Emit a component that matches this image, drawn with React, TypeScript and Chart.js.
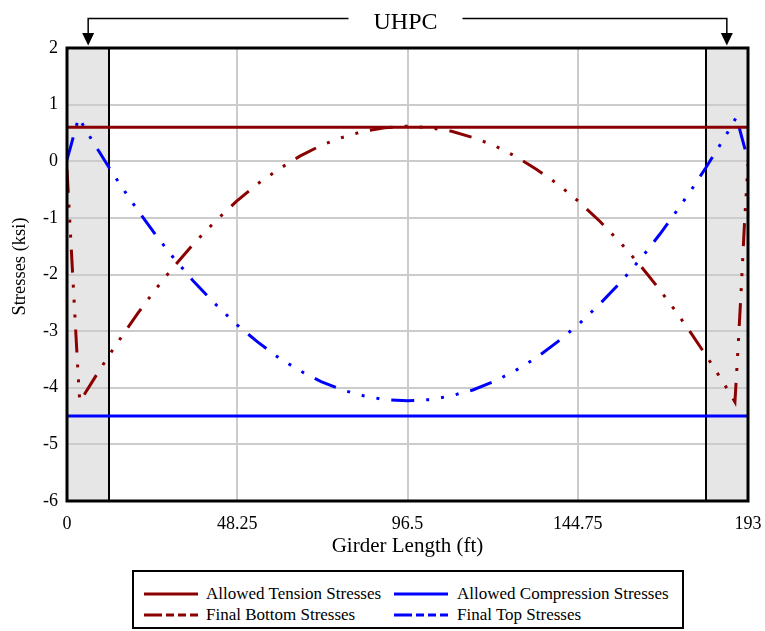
import React, { useEffect, useRef } from "react";
import { Chart, registerables } from "chart.js";

Chart.register(...registerables);

// ---- data ----
const xTicks = [0, 48.25, 96.5, 144.75, 193];
const yRange = [-6, 2];
const girderSpan = [0, 193];
const allowedTension = 0.6;
const allowedCompression = -4.5;
const uhpcZones = [
  [0, 12],
  [181, 193],
];
const uhpcArrows = [6, 187];
const uhpcLabel = "UHPC";

const bottomX = [
  0, 1, 2, 3, 3.6, 5, 7, 9, 12, 16, 20, 25, 30, 36, 42, 48, 54, 60, 66, 72, 78, 84, 90, 96.5,
  103, 109, 115, 121, 127, 133, 139, 145, 151, 157, 163, 168, 173, 177, 181, 184, 186, 188, 189.3, 190, 191, 192, 193,
];
const bottomStress = [
  -0.15, -1.3, -2.45, -3.6, -4.24, -4.11, -3.91, -3.71, -3.42, -3.05, -2.69, -2.27, -1.88, -1.45, -1.06, -0.71, -0.4, -0.14, 0.09, 0.28, 0.42, 0.53, 0.59, 0.62,
  0.59, 0.53, 0.42, 0.28, 0.09, -0.14, -0.4, -0.71, -1.06, -1.45, -1.88, -2.27, -2.69, -3.05, -3.42, -3.71, -3.91, -4.11, -4.25, -3.5, -2.35, -1.1, -0.05,
];
const topX = [
  0, 1, 2, 3.3, 5, 7, 9, 12, 16, 20, 25, 30, 36, 42, 48, 54, 60, 66, 72, 78, 84, 90, 96.5,
  103, 109, 115, 121, 127, 133, 139, 145, 151, 157, 163, 168, 173, 177, 181, 184, 186, 188, 189.7, 191, 192, 193,
];
const topStress = [
  0.03, 0.25, 0.48, 0.77, 0.59, 0.38, 0.18, -0.12, -0.5, -0.86, -1.29, -1.69, -2.13, -2.52, -2.88, -3.19, -3.47, -3.7, -3.89, -4.04, -4.14, -4.21, -4.23,
  -4.21, -4.14, -4.04, -3.89, -3.7, -3.47, -3.19, -2.88, -2.52, -2.13, -1.69, -1.29, -0.86, -0.5, -0.12, 0.18, 0.38, 0.59, 0.78, 0.48, 0.25, 0.03,
];

const seriesNames = [
  "Allowed Tension Stresses",
  "Allowed Compression Stresses",
  "Final Bottom Stresses",
  "Final Top Stresses",
];
const xTitle = "Girder Length (ft)";
const yTitle = "Stresses (ksi)";

// ---- styles ----
const RED = "#8b0000";
const BLUE = "#0000ff";
const FONT = '"Liberation Serif", "Times New Roman", serif';
const DASH = [23, 12, 3, 12, 3, 12, 3, 12];

const decorPlugin = {
  id: "decor",
  beforeDraw(chart: any) {
    const { ctx, chartArea, scales } = chart;
    const xs = scales.x;
    ctx.save();
    ctx.fillStyle = "#e6e6e6";
    uhpcZones.forEach(([a, b]) => {
      const x1 = xs.getPixelForValue(a);
      const x2 = xs.getPixelForValue(b);
      ctx.fillRect(x1, chartArea.top, x2 - x1, chartArea.bottom - chartArea.top);
    });
    ctx.restore();
  },
  beforeDatasetsDraw(chart: any) {
    const { ctx, chartArea, scales } = chart;
    const xs = scales.x;
    ctx.save();
    ctx.strokeStyle = "#000";
    ctx.lineWidth = 2;
    [uhpcZones[0][1], uhpcZones[1][0]].forEach((v) => {
      const x = Math.round(xs.getPixelForValue(v));
      ctx.beginPath();
      ctx.moveTo(x, chartArea.top);
      ctx.lineTo(x, chartArea.bottom);
      ctx.stroke();
    });
    ctx.restore();
  },
  afterDatasetsDraw(chart: any) {
    const { ctx, chartArea } = chart;
    ctx.save();
    ctx.strokeStyle = "#000";
    ctx.lineWidth = 3;
    ctx.strokeRect(
      chartArea.left,
      chartArea.top,
      chartArea.right - chartArea.left,
      chartArea.bottom - chartArea.top
    );
    ctx.restore();
  },
  afterDraw(chart: any) {
    const { ctx, chartArea, scales } = chart;
    const xs = scales.x;
    ctx.save();
    // UHPC annotation
    const xa = xs.getPixelForValue(uhpcArrows[0]);
    const xb = xs.getPixelForValue(uhpcArrows[1]);
    const lineY = 18.5;
    const arrowTop = 33;
    const tipY = chartArea.top - 2.5;
    const cx = (chartArea.left + chartArea.right) / 2 - 2;
    ctx.font = `24px ${FONT}`;
    ctx.fillStyle = "#000";
    ctx.textAlign = "center";
    ctx.textBaseline = "alphabetic";
    ctx.fillText(uhpcLabel, cx, 28.5);
    const tw = ctx.measureText(uhpcLabel).width;
    ctx.strokeStyle = "#000";
    ctx.lineWidth = 1.5;
    ctx.beginPath();
    ctx.moveTo(xa, arrowTop);
    ctx.lineTo(xa, lineY);
    ctx.lineTo(cx - tw / 2 - 25, lineY);
    ctx.moveTo(cx + tw / 2 + 25, lineY);
    ctx.lineTo(xb, lineY);
    ctx.lineTo(xb, arrowTop);
    ctx.stroke();
    [xa, xb].forEach((x) => {
      ctx.beginPath();
      ctx.moveTo(x - 6, arrowTop);
      ctx.lineTo(x + 6, arrowTop);
      ctx.lineTo(x, tipY);
      ctx.closePath();
      ctx.fill();
    });
    // Y axis title
    ctx.translate(20, (chartArea.top + chartArea.bottom) / 2 - 8);
    ctx.rotate(-Math.PI / 2);
    ctx.font = `18.5px ${FONT}`;
    ctx.textBaseline = "middle";
    ctx.fillText(yTitle, 0, 0);
    ctx.restore();
  },
};

function LegendSample({ color, dashed }: { color: string; dashed: boolean }) {
  return (
    <svg width={54} height={6} style={{ display: "block" }}>
      <line
        x1={0}
        y1={3}
        x2={54}
        y2={3}
        stroke={color}
        strokeWidth={3}
        strokeDasharray={dashed ? "18 4 8 4 8 4 8" : undefined}
      />
    </svg>
  );
}

export default function App() {
  const canvasRef = useRef<HTMLCanvasElement | null>(null);

  useEffect(() => {
    const canvas = canvasRef.current;
    if (!canvas) return;
    const chart = new Chart(canvas, {
      type: "line",
      data: {
        datasets: [
          {
            label: seriesNames[0],
            data: girderSpan.map((x) => ({ x, y: allowedTension })),
            borderColor: RED,
            borderWidth: 3,
            pointRadius: 0,
          },
          {
            label: seriesNames[1],
            data: girderSpan.map((x) => ({ x, y: allowedCompression })),
            borderColor: BLUE,
            borderWidth: 3,
            pointRadius: 0,
          },
          {
            label: seriesNames[2],
            data: bottomX.map((x, i) => ({ x, y: bottomStress[i] })),
            borderColor: RED,
            borderWidth: 3,
            borderDash: DASH,
            borderCapStyle: "butt",
            pointRadius: 0,
            tension: 0,
          },
          {
            label: seriesNames[3],
            data: topX.map((x, i) => ({ x, y: topStress[i] })),
            borderColor: BLUE,
            borderWidth: 3,
            borderDash: DASH,
            borderCapStyle: "butt",
            pointRadius: 0,
            tension: 0,
          },
        ],
      },
      options: {
        animation: false,
        responsive: false,
        devicePixelRatio: 1,
        layout: { padding: { top: 48, right: 17, bottom: 70, left: 0 } },
        plugins: {
          legend: { display: false },
          tooltip: { enabled: false },
        },
        scales: {
          x: {
            type: "linear",
            min: girderSpan[0],
            max: girderSpan[1],
            afterBuildTicks: (s: any) => {
              s.ticks = xTicks.map((v) => ({ value: v }));
            },
            afterFit: (s: any) => {
              s.height = 60;
              s.paddingLeft = 0;
              s.paddingRight = 0;
            },
            grid: { color: "#cccccc", lineWidth: 2, drawTicks: false },
            border: { display: false },
            ticks: {
              color: "#000",
              font: { family: FONT, size: 18 },
              padding: 12,
              maxRotation: 0,
              autoSkip: false,
              callback: (v: any) => String(v),
            },
            title: {
              display: true,
              text: xTitle,
              color: "#000",
              font: { family: FONT, size: 21 },
              padding: { top: 0, bottom: 2 },
            },
          },
          y: {
            type: "linear",
            min: yRange[0],
            max: yRange[1],
            afterFit: (s: any) => {
              s.width = 67;
              s.paddingTop = 0;
              s.paddingBottom = 0;
            },
            grid: { color: "#cccccc", lineWidth: 2, drawTicks: false },
            border: { display: false },
            ticks: {
              stepSize: 1,
              color: "#000",
              font: { family: FONT, size: 18 },
              padding: 9,
            },
          },
        },
      },
      plugins: [decorPlugin],
    } as any);
    return () => chart.destroy();
  }, []);

  const itemText: React.CSSProperties = {
    position: "absolute",
    fontFamily: FONT,
    fontSize: 17,
    lineHeight: "20px",
    height: 20,
    whiteSpace: "nowrap",
    color: "#000",
  };
  const rows = [24, 45];
  const cols = [
    { sample: 12, text: 74 },
    { sample: 262, text: 325 },
  ];
  const items = [
    { name: seriesNames[0], color: RED, dashed: false, r: 0, c: 0 },
    { name: seriesNames[1], color: BLUE, dashed: false, r: 0, c: 1 },
    { name: seriesNames[2], color: RED, dashed: true, r: 1, c: 0 },
    { name: seriesNames[3], color: BLUE, dashed: true, r: 1, c: 1 },
  ];

  return (
    <div style={{ position: "absolute", left: 0, top: 0, width: 765, height: 631, background: "#fff" }}>
      <canvas ref={canvasRef} width={765} height={631} style={{ width: 765, height: 631, display: "block" }} />
      <div
        style={{
          position: "absolute",
          left: 132,
          top: 570,
          width: 552,
          height: 59,
          border: "2px solid #000",
          boxSizing: "border-box",
          background: "#fff",
        }}
      >
        {items.map((it) => (
          <React.Fragment key={it.name}>
            <div style={{ position: "absolute", left: cols[it.c].sample - 2, top: rows[it.r] - 2 - 3 }}>
              <LegendSample color={it.color} dashed={it.dashed} />
            </div>
            <div style={{ ...itemText, left: cols[it.c].text - 2, top: rows[it.r] - 2 - 10 }}>{it.name}</div>
          </React.Fragment>
        ))}
      </div>
    </div>
  );
}
